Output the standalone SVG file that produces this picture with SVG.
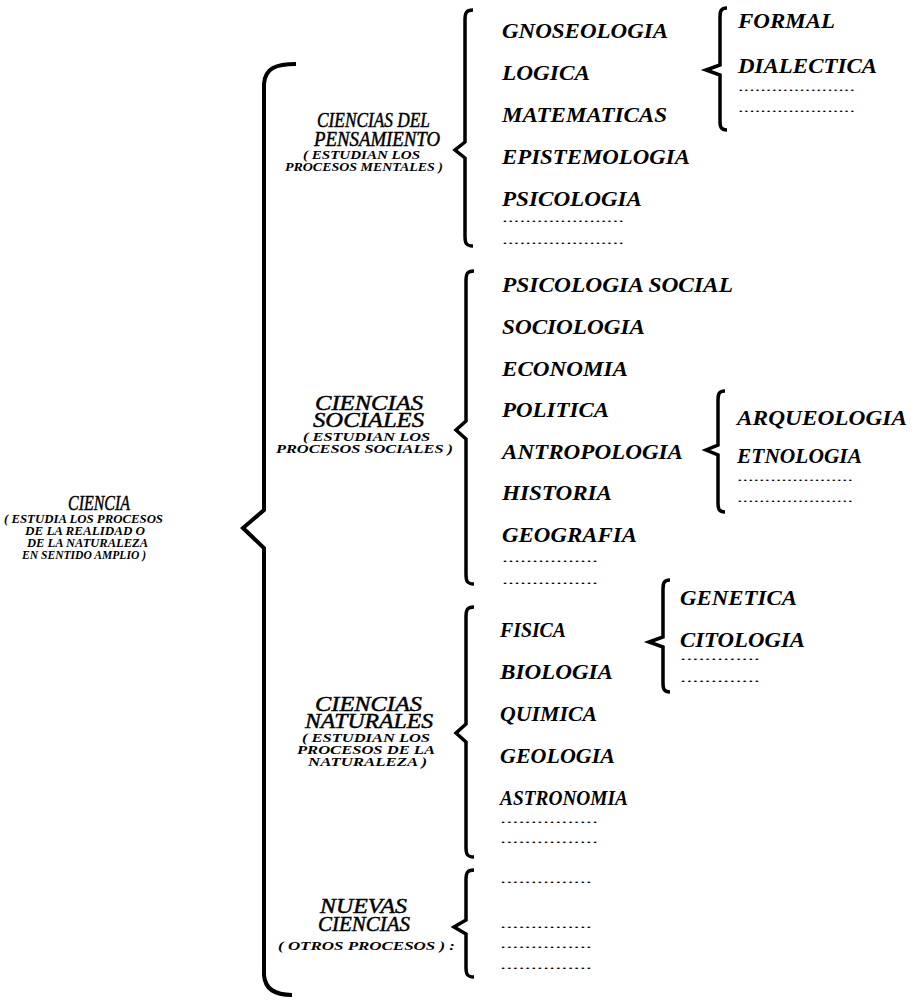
<svg xmlns="http://www.w3.org/2000/svg" width="915" height="1000" viewBox="0 0 915 1000">
<style>
.t{font-family:"Liberation Serif","Times New Roman",serif;font-style:italic;font-size:20px;fill:#000;stroke:#000;stroke-width:0.45}
.i{font-family:"Liberation Serif","Times New Roman",serif;font-style:italic;font-weight:bold;font-size:20px;fill:#000}
.s{font-family:"Liberation Serif","Times New Roman",serif;font-style:italic;font-weight:bold;font-size:13px;fill:#000}
.d{font-family:"Liberation Serif","Times New Roman",serif;font-size:12px;fill:#000}
.b{fill:none;stroke:#000;stroke-width:4;stroke-linejoin:miter;stroke-linecap:butt}
.bs{fill:none;stroke:#000;stroke-width:3.5;stroke-linejoin:miter}
</style>
<rect width="915" height="1000" fill="#fff"/>
<g id="connectors">
<path class="b" d="M296,64 C276,64 265,68 264,84 L264,510 L243,528 L264,548 L264,975 C265,990 276,995 292,995"/>
<path class="bs" d="M473,10 C466,10 465,13 465,20 L465,142 L455,150 L465,158 L465,236 C465,243 466,246 473,246"/>
<path class="bs" d="M474,271 C467,271 466,274 466,281 L466,421 L456,430 L466,439 L466,574 C466,581 467,584 474,584"/>
<path class="bs" d="M474,607 C467,607 466,610 466,617 L466,724 L456,733 L466,742 L466,847 C466,854 467,857 474,857"/>
<path class="bs" d="M474,870 C467,870 466,873 466,880 L466,920 L454,927 L466,934 L466,967 C466,974 467,977 474,977"/>
<path class="bs" d="M727,8 C721,8 720,11 720,17 L720,65 L706,70 L720,75 L720,121 C720,127 721,130 727,130"/>
<path class="bs" d="M725,391 C719,391 718,394 718,400 L718,445 L706,450 L718,455 L718,503 C718,509 719,512 725,512"/>
<path class="bs" d="M670,580 C664,580 663,583 663,589 L663,637 L649,642 L663,647 L663,683 C663,689 664,692 670,692"/>
</g>
<g id="n-ciencia">
<text class="t" x="68" y="510" textLength="62" lengthAdjust="spacingAndGlyphs">CIENCIA</text>
<text class="s" x="4" y="523" textLength="159" lengthAdjust="spacingAndGlyphs">( ESTUDIA LOS PROCESOS</text>
<text class="s" x="25" y="535" textLength="120" lengthAdjust="spacingAndGlyphs">DE LA REALIDAD  O</text>
<text class="s" x="27" y="547" textLength="121" lengthAdjust="spacingAndGlyphs">DE LA NATURALEZA</text>
<text class="s" x="22" y="559" textLength="124" lengthAdjust="spacingAndGlyphs">EN SENTIDO AMPLIO )</text>
</g>
<g id="n-pensamiento">
<text class="t" x="317" y="127" textLength="113" lengthAdjust="spacingAndGlyphs">CIENCIAS DEL</text>
<text class="t" x="314" y="146" textLength="126" lengthAdjust="spacingAndGlyphs">PENSAMIENTO</text>
<text class="s" x="303" y="159" textLength="117" lengthAdjust="spacingAndGlyphs">( ESTUDIAN LOS</text>
<text class="s" x="285" y="171" textLength="158" lengthAdjust="spacingAndGlyphs">PROCESOS MENTALES )</text>
</g>
<g id="n-pensamiento-items">
<text class="i" x="502" y="38" textLength="166" lengthAdjust="spacingAndGlyphs">GNOSEOLOGIA</text>
<text class="i" x="502" y="80" textLength="88" lengthAdjust="spacingAndGlyphs">LOGICA</text>
<text class="i" x="502" y="122" textLength="165" lengthAdjust="spacingAndGlyphs">MATEMATICAS</text>
<text class="i" x="502" y="164" textLength="188" lengthAdjust="spacingAndGlyphs">EPISTEMOLOGIA</text>
<text class="i" x="502" y="206" textLength="140" lengthAdjust="spacingAndGlyphs">PSICOLOGIA</text>
<text class="d" x="502" y="222" textLength="122" lengthAdjust="spacingAndGlyphs">.....................</text>
<text class="d" x="502" y="244" textLength="122" lengthAdjust="spacingAndGlyphs">.....................</text>
</g>
<g id="n-logica-items">
<text class="i" x="738" y="28" textLength="97" lengthAdjust="spacingAndGlyphs">FORMAL</text>
<text class="i" x="738" y="73" textLength="139" lengthAdjust="spacingAndGlyphs">DIALECTICA</text>
<text class="d" x="738" y="91" textLength="117" lengthAdjust="spacingAndGlyphs">.....................</text>
<text class="d" x="738" y="112" textLength="117" lengthAdjust="spacingAndGlyphs">.....................</text>
</g>
<g id="n-sociales">
<text class="t" x="315" y="410" textLength="108" lengthAdjust="spacingAndGlyphs">CIENCIAS</text>
<text class="t" x="313" y="427" textLength="111" lengthAdjust="spacingAndGlyphs">SOCIALES</text>
<text class="s" x="303" y="441" textLength="127" lengthAdjust="spacingAndGlyphs">( ESTUDIAN LOS</text>
<text class="s" x="276" y="453" textLength="177" lengthAdjust="spacingAndGlyphs">PROCESOS SOCIALES )</text>
</g>
<g id="n-sociales-items">
<text class="i" x="502" y="292" textLength="231" lengthAdjust="spacingAndGlyphs">PSICOLOGIA SOCIAL</text>
<text class="i" x="502" y="334" textLength="143" lengthAdjust="spacingAndGlyphs">SOCIOLOGIA</text>
<text class="i" x="502" y="376" textLength="126" lengthAdjust="spacingAndGlyphs">ECONOMIA</text>
<text class="i" x="502" y="417" textLength="107" lengthAdjust="spacingAndGlyphs">POLITICA</text>
<text class="i" x="502" y="459" textLength="181" lengthAdjust="spacingAndGlyphs">ANTROPOLOGIA</text>
<text class="i" x="502" y="500" textLength="110" lengthAdjust="spacingAndGlyphs">HISTORIA</text>
<text class="i" x="502" y="542" textLength="135" lengthAdjust="spacingAndGlyphs">GEOGRAFIA</text>
<text class="d" x="502" y="562" textLength="96" lengthAdjust="spacingAndGlyphs">................</text>
<text class="d" x="502" y="584" textLength="96" lengthAdjust="spacingAndGlyphs">................</text>
</g>
<g id="n-antropologia-items">
<text class="i" x="737" y="425" textLength="170" lengthAdjust="spacingAndGlyphs">ARQUEOLOGIA</text>
<text class="i" x="737" y="463" textLength="125" lengthAdjust="spacingAndGlyphs">ETNOLOGIA</text>
<text class="d" x="737" y="481" textLength="116" lengthAdjust="spacingAndGlyphs">.....................</text>
<text class="d" x="737" y="502" textLength="116" lengthAdjust="spacingAndGlyphs">.....................</text>
</g>
<g id="n-naturales">
<text class="t" x="315" y="711" textLength="107" lengthAdjust="spacingAndGlyphs">CIENCIAS</text>
<text class="t" x="305" y="728" textLength="128" lengthAdjust="spacingAndGlyphs">NATURALES</text>
<text class="s" x="302" y="742" textLength="128" lengthAdjust="spacingAndGlyphs">( ESTUDIAN LOS</text>
<text class="s" x="297" y="754" textLength="138" lengthAdjust="spacingAndGlyphs">PROCESOS DE LA</text>
<text class="s" x="308" y="766" textLength="119" lengthAdjust="spacingAndGlyphs">NATURALEZA )</text>
</g>
<g id="n-naturales-items">
<text class="i" x="500" y="637" textLength="66" lengthAdjust="spacingAndGlyphs">FISICA</text>
<text class="i" x="500" y="679" textLength="113" lengthAdjust="spacingAndGlyphs">BIOLOGIA</text>
<text class="i" x="500" y="721" textLength="97" lengthAdjust="spacingAndGlyphs">QUIMICA</text>
<text class="i" x="500" y="763" textLength="115" lengthAdjust="spacingAndGlyphs">GEOLOGIA</text>
<text class="i" x="500" y="805" textLength="128" lengthAdjust="spacingAndGlyphs">ASTRONOMIA</text>
<text class="d" x="500" y="823" textLength="98" lengthAdjust="spacingAndGlyphs">................</text>
<text class="d" x="500" y="843" textLength="98" lengthAdjust="spacingAndGlyphs">................</text>
</g>
<g id="n-biologia-items">
<text class="i" x="680" y="605" textLength="117" lengthAdjust="spacingAndGlyphs">GENETICA</text>
<text class="i" x="680" y="647" textLength="125" lengthAdjust="spacingAndGlyphs">CITOLOGIA</text>
<text class="d" x="680" y="660" textLength="80" lengthAdjust="spacingAndGlyphs">.............</text>
<text class="d" x="680" y="682" textLength="80" lengthAdjust="spacingAndGlyphs">.............</text>
</g>
<g id="n-nuevas">
<text class="t" x="320" y="913" textLength="87" lengthAdjust="spacingAndGlyphs">NUEVAS</text>
<text class="t" x="318" y="931" textLength="92" lengthAdjust="spacingAndGlyphs">CIENCIAS</text>
<text class="s" x="278" y="950" textLength="177" lengthAdjust="spacingAndGlyphs">( OTROS PROCESOS ) :</text>
</g>
<g id="n-nuevas-items">
<text class="d" x="500" y="883" textLength="92" lengthAdjust="spacingAndGlyphs">...............</text>
<text class="d" x="500" y="928" textLength="92" lengthAdjust="spacingAndGlyphs">...............</text>
<text class="d" x="500" y="948" textLength="92" lengthAdjust="spacingAndGlyphs">...............</text>
<text class="d" x="500" y="969" textLength="92" lengthAdjust="spacingAndGlyphs">...............</text>
</g>
</svg>
